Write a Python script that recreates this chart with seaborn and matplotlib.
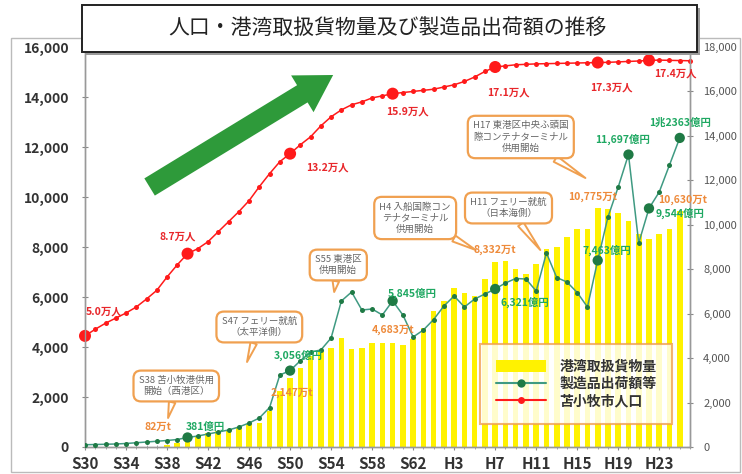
import numpy as np
import pandas as pd
import matplotlib
matplotlib.use("Agg")
import matplotlib.pyplot as plt
from matplotlib.patches import Rectangle, Patch
from matplotlib.lines import Line2D
import seaborn as sns

# ---------------- data ----------------
years = list(range(1955, 2015))
tick_years = [1955, 1959, 1963, 1967, 1971, 1975, 1979, 1983, 1987, 1991, 1995, 1999, 2003, 2007, 2011]
tick_labels = ["S30", "S34", "S38", "S42", "S46", "S50", "S54", "S58", "S62", "H3", "H7", "H11", "H15", "H19", "H23"]

# 苫小牧市人口 (units of 10 persons, right axis)
population = [5000, 5300, 5570, 5800, 6030, 6300, 6660, 7050, 7650, 8200,
              8700, 8925, 9240, 9690, 10140, 10590, 11085, 11715, 12300, 12840,
              13200, 13600, 13960, 14450, 14860, 15170, 15400, 15530, 15710, 15800,
              15900, 15950, 16000, 16050, 16100, 16200, 16300, 16450, 16650, 16900,
              17100, 17150, 17200, 17220, 17240, 17250, 17260, 17270, 17280, 17290,
              17300, 17310, 17330, 17350, 17370, 17400, 17410, 17400, 17390, 17380]

# 製造品出荷額等 (億円, left axis)
shipments = [90, 100, 110, 120, 140, 170, 200, 230, 260, 300,
             381, 440, 520, 600, 680, 800, 960, 1160, 1580, 2880,
             3056, 3450, 3800, 3880, 4360, 5840, 6200, 5480, 5520, 5280,
             5845, 5280, 4400, 4680, 5100, 5640, 6040, 5600, 5920, 6120,
             6321, 6560, 6740, 6720, 6240, 7760, 6780, 6600, 6180, 5600,
             7463, 9200, 10400, 11697, 8160, 9544, 10200, 11280, 12363, np.nan]

# 港湾取扱貨物量 (万トン, right axis)
cargo = [np.nan] * 8 + [
    82, 200, 400, 500, 630, 700, 750, 860, 1030, 1100, 1600, 2500,
    3100, 3555, 4100, 4300, 4450, 4900, 4400, 4450, 4700, 4680,
    4683, 4600, 4860, 5355, 6120, 6570, 7155, 6930, 6795, 7560,
    8332, 8370, 8010, 7785, 8235, 8910, 9000, 9450, 9800, 9800,
    10775, 10700, 10530, 10170, 9585, 9360, 9585, 9800, 10630] + [np.nan]

pop_big_years = [1955, 1965, 1975, 1985, 1995, 2005, 2010]
ship_big_years = [1965, 1975, 1985, 1995, 2005, 2008, 2010, 2013]

pop_labels = [(1955, "5.0万人", 19, 24), (1965, "8.7万人", -10, 17), (1975, "13.2万人", 37, -14),
              (1985, "15.9万人", 15, -18), (1995, "17.1万人", 13, -26), (2005, "17.3万人", 14, -25),
              (2010, "17.4万人", 26, -13)]
ship_labels = [(1965, "381億円", 18, 10), (1975, "3,056億円", 8, 15), (1985, "5,845億円", 20, 8),
               (1995, "6,321億円", 30, -13), (2005, "7,463億円", 9, 10), (2008, "11,697億円", -6, 15),
               (2010, "9,544億円", 31, -5), (2013, "1兆2363億円", 0, 15)]
cargo_labels = [(1963, "82万t", -9, 18), (1975, "2,147万t", 2, -15), (1985, "4,683万t", 0, 13),
                (1995, "8,332万t", 0, 12), (2005, "10,775万t", -5, 11), (2013, "10,630万t", 3, 11)]

callouts = [("S38 苫小牧港供用\n開始（西港区）", (1963.9, 2745), (1963.1, 1305)),
            ("S47 フェリー就航\n（太平洋側）", (1972.0, 5400), (1970.8, 3825)),
            ("S55 東港区\n供用開始", (1979.7, 8190), (1979.3, 6975)),
            ("H4 入船国際コン\nテナターミナル\n供用開始", (1987.2, 10305), (1993.1, 8865)),
            ("H11 フェリー就航\n（日本海側）", (1996.3, 10755), (1999.4, 8865)),
            ("H17 東港区中央ふ頭国\n際コンテナターミナル\n供用開始", (1997.5, 13950), (2003.8, 12105))]

title = "人口・港湾取扱貨物量及び製造品出荷額の推移"

df = pd.DataFrame({"year": years, "population": population,
                   "shipments": shipments, "cargo": cargo})

# ---------------- style ----------------
sns.set_style("white")
plt.rcParams["font.family"] = ["Noto Sans CJK JP", "DejaVu Sans"]

RED = "#ff1a1a"
GREEN_LINE = "#3f9a82"
GREEN_MK = "#1f7a45"
YELLOW = "#fff200"
ORANGE = "#f0a050"

fig = plt.figure(figsize=(7.42, 4.74), dpi=100)
fig.patch.set_facecolor("white")
ax = fig.add_axes([85 / 742, 27 / 474, 605 / 742, 400 / 474])
ax.patch.set_alpha(0)

# bars (right scale)
sns.barplot(data=df.dropna(subset=["cargo"]), x="year", y="cargo", native_scale=True,
            color=YELLOW, saturation=1, width=0.55, errorbar=None, ax=ax,
            edgecolor="none", zorder=2)

# population line (right scale)
sns.lineplot(data=df, x="year", y="population", ax=ax, color=RED, lw=1.1,
             marker="o", markersize=3.6, markeredgewidth=0, legend=False, zorder=4)
sns.scatterplot(data=df[df["year"].isin(pop_big_years)], x="year", y="population",
                ax=ax, color=RED, s=75, edgecolor="none", legend=False, zorder=5, clip_on=False)
for ln in ax.lines:
    ln.set_clip_on(False)

ax.set_xlim(1955, 2014)
ax.set_ylim(0, 18000)

ax_l = ax.twinx()
ax_l.patch.set_alpha(0)
sns.lineplot(data=df, x="year", y="shipments", ax=ax_l, color=GREEN_LINE, lw=1.1,
             marker="o", markersize=3.6, markeredgewidth=0, markerfacecolor=GREEN_MK,
             legend=False, zorder=4)
sns.scatterplot(data=df[df["year"].isin(ship_big_years)], x="year", y="shipments",
                ax=ax_l, color=GREEN_MK, s=55, edgecolor="none", legend=False, zorder=5)
ax_l.set_ylim(0, 16000)
ax_l.set_xlim(1955, 2014)

# axis placement
ax.yaxis.tick_right()
ax_l.yaxis.tick_left()
ax.set_ylabel("")
ax_l.set_ylabel("")
ax.set_xlabel("")

ax.set_yticks(range(0, 18001, 2000))
ax.set_yticklabels([f"{v:,}" for v in range(0, 18001, 2000)])
ax_l.set_yticks(range(0, 16001, 2000))
ax_l.set_yticklabels([f"{v:,}" for v in range(0, 16001, 2000)])
ax.set_xticks(tick_years)
ax.set_xticklabels(tick_labels)
ax.set_xticks(years, minor=True)

ax.tick_params(axis="y", which="both", right=True, left=False, direction="inout", length=5,
               colors="#888888", labelcolor="#555555", labelsize=8, pad=7)
ax_l.tick_params(axis="y", left=True, right=False, direction="inout", length=5,
                 colors="#888888", labelcolor="#333333", labelsize=10, pad=9)
for t in ax_l.get_yticklabels():
    t.set_fontweight("bold")
ax.tick_params(axis="x", which="major", bottom=True, direction="inout", length=5,
               colors="#888888", labelcolor="#333333", labelsize=11, pad=4)
ax.tick_params(axis="x", which="minor", bottom=True, direction="inout", length=3, colors="#999999")
for t in ax.get_xticklabels():
    t.set_fontweight("bold")

for a in (ax, ax_l):
    a.spines["top"].set_visible(False)
    for s in ("left", "right", "bottom"):
        a.spines[s].set_color("#999999")
        a.spines[s].set_linewidth(1.0)

# data labels
def ypos_label(axes, year, val, text, dx, dy, color):
    axes.annotate(text, xy=(year, val), xytext=(dx, dy), textcoords="offset pixels",
                  ha="center", va="center", fontsize=7.5, fontweight="bold", color=color, zorder=8)

for yr, txt, dx, dy in pop_labels:
    ypos_label(ax_l, yr, df.loc[df.year == yr, "population"].iloc[0] * 16000 / 18000, txt, dx, dy, "#e8262a")
for yr, txt, dx, dy in ship_labels:
    ypos_label(ax_l, yr, df.loc[df.year == yr, "shipments"].iloc[0], txt, dx, dy, "#1fa862")
for yr, txt, dx, dy in cargo_labels:
    ypos_label(ax_l, yr, df.loc[df.year == yr, "cargo"].iloc[0] * 16000 / 18000, txt, dx, dy, "#ee8a3a")

# callouts
for txt, center, tip in callouts:
    ax.annotate(txt, xy=tip, xytext=center, textcoords="data", ha="center", va="center",
                fontsize=6.8, color="#666666", linespacing=1.3, zorder=7,
                bbox=dict(boxstyle="round,pad=0.55,rounding_size=0.8", fc="white", ec=ORANGE, lw=1.6),
                arrowprops=dict(arrowstyle="wedge,tail_width=0.7,shrink_factor=0.5",
                                fc="white", ec=ORANGE, lw=1.4, shrinkA=0, shrinkB=0))

# big green arrow
ax.annotate("", xy=(1979.2, 16740), xytext=(1961.3, 11700), textcoords="data",
            arrowprops=dict(arrowstyle="simple,head_length=2.6,head_width=3.1,tail_width=1.45",
                            mutation_scale=10, fc="#2e9a3a", ec="none", shrinkA=0, shrinkB=0),
            zorder=3)

# legend
handles = [Patch(facecolor=YELLOW, edgecolor="none"),
           Line2D([], [], color=GREEN_LINE, lw=1.5, marker="o", markersize=6, markerfacecolor=GREEN_MK,
                  markeredgewidth=0),
           Line2D([], [], color=RED, lw=1.5, marker="o", markersize=5, markeredgewidth=0)]
leg = ax_l.legend(handles, ["港湾取扱貨物量", "製造品出荷額等", "苫小牧市人口"],
                  loc="center", bbox_to_anchor=(0.812, 0.157), frameon=True, fancybox=False,
                  fontsize=10, handlelength=3.6, handleheight=1.0, borderpad=1.1,
                  labelspacing=0.25, handletextpad=1.0, borderaxespad=0)
leg.get_frame().set_edgecolor(ORANGE)
leg.get_frame().set_linewidth(1.5)
leg.set_zorder(9)
for t in leg.get_texts():
    t.set_color("#333333")
    t.set_fontweight("bold")

# outer frame
fig.patches.append(Rectangle((11 / 742, 2 / 474), 729 / 742, 434 / 474, transform=fig.transFigure,
                             fill=False, ec="#bbbbbb", lw=1.0, zorder=-1))
# title box with shadow
fig.patches.append(Rectangle((85 / 742, (474 - 55) / 474), 615 / 742, 47 / 474, transform=fig.transFigure,
                             fc="#9a9a9a", ec="none", zorder=1))
fig.patches.append(Rectangle((82 / 742, (474 - 52) / 474), 615 / 742, 47 / 474, transform=fig.transFigure,
                             fc="white", ec="#222222", lw=1.4, zorder=2))
fig.text(387 / 742, (474 - 28) / 474, title, ha="center", va="center", fontsize=15, color="#222222", zorder=3)

fig.savefig("out.png", dpi=100)
